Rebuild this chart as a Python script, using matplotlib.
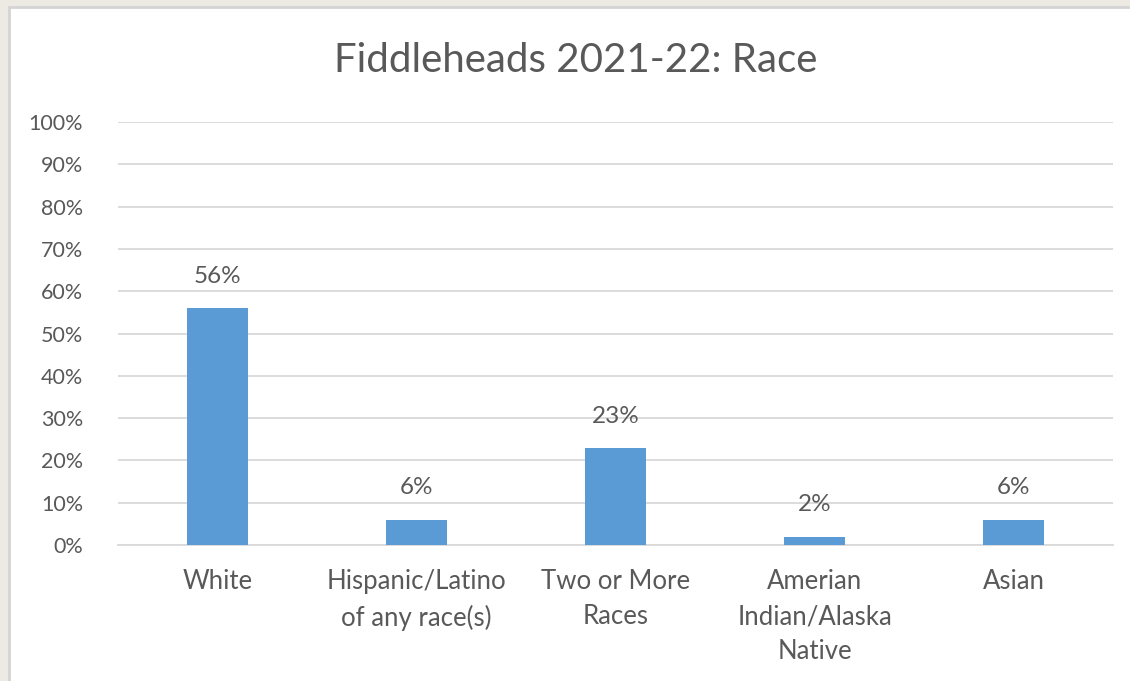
import matplotlib.pyplot as plt
from matplotlib.patches import Rectangle
from matplotlib.ticker import FuncFormatter

# Data
categories = ['White', 'Hispanic/Latino\nof any race(s)', 'Two or More\nRaces',
              'Amerian\nIndian/Alaska\nNative', 'Asian']
shares = [56, 6, 23, 2, 6]
title = 'Fiddleheads 2021-22: Race'

barColor = '#5B9BD5'
textColor = '#595959'
gridColor = '#D9D9D9'

plt.rcParams['font.family'] = ['Lato', 'DejaVu Sans']

fig = plt.figure(figsize=(11.3, 6.81), dpi=100)
fig.patch.set_facecolor('#EDEAE3')
# white chart area with a thin grey frame, like the screenshot
fig.patches.append(Rectangle((9/1130, -0.01), 1.02, 1 - 7/681 + 0.01,
                             transform=fig.transFigure, facecolor='white',
                             edgecolor='#D4D4D4', linewidth=2, zorder=-5))

ax = fig.add_axes([118/1130, 1 - 545/681, (1113 - 118)/1130, (545 - 122)/681])
ax.set_facecolor('none')
x = range(len(categories))
bars = ax.bar(x, shares, width=0.31, color=barColor, zorder=3)
for xi, v in zip(x, shares):
    ax.text(xi, v + 5.0, f'{v}%', ha='center', va='bottom', fontsize=17.5, color=textColor)

ax.set_ylim(0, 100)
ax.set_xlim(-0.5, len(categories) - 0.5)
ax.set_yticks(range(0, 101, 10))
ax.yaxis.set_major_formatter(FuncFormatter(lambda v, pos: f'{int(v)}%'))
ax.set_xticks(list(x))
ax.set_xticklabels(categories, linespacing=1.52)
ax.grid(axis='y', color=gridColor, linewidth=1.3, zorder=0)
ax.tick_params(axis='both', length=0, labelcolor=textColor)
ax.tick_params(axis='y', pad=25, labelsize=15.5)
ax.tick_params(axis='x', pad=17, labelsize=18.5)
for s in ['top', 'right', 'left']:
    ax.spines[s].set_visible(False)
ax.spines['bottom'].set_color(gridColor)
ax.spines['bottom'].set_linewidth(1.3)

fig.text(576/1130, 1 - 61/681, title, ha='center', va='center', fontsize=29, color=textColor)

plt.savefig('out.png', dpi=100, facecolor=fig.get_facecolor())
